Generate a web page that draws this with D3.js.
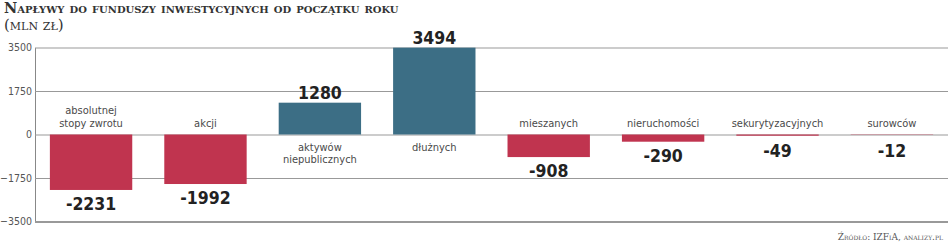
<!DOCTYPE html>
<html>
<head>
<meta charset="utf-8">
<script src="https://cdn.jsdelivr.net/npm/d3@7"></script>
<style>
  body { margin: 0; background: #fff; }
  .title { font-family: "DejaVu Serif", serif; font-weight: bold; font-variant: small-caps; fill: #333; }
  .unit { font-family: "DejaVu Serif", serif; font-variant: small-caps; fill: #333; }
  .cat { font-family: "Liberation Sans Narrow", "DejaVu Sans Condensed", sans-serif; fill: #4a4a4a; }
  .val { font-family: "Liberation Sans Narrow", "DejaVu Sans Condensed", sans-serif; font-weight: bold; fill: #222; }
  .axis text { font-family: "DejaVu Sans Condensed", "Liberation Sans Narrow", sans-serif; fill: #555; }
  .source { font-family: "DejaVu Serif", serif; font-variant: small-caps; fill: #555; }
</style>
</head>
<body>
<svg id="chart" width="948" height="245"></svg>
<script>
// categories (multi-line labels split by "|")
const categories = ['absolutnej|stopy zwrotu', 'akcji', 'aktywów|niepublicznych', 'dłużnych',
  'mieszanych', 'nieruchomości', 'sekurytyzacyjnych', 'surowców']
const values = [-2231, -1992, 1280, 3494, -908, -290, -49, -12]
const tickValues = [3500, 1750, 0, -1750, -3500]

const width = 948, height = 245
const margin = { top: 47.5, right: 0, bottom: 23.5, left: 35 }
const svg = d3.select('#chart')

const x = d3.scaleBand()
    .domain(d3.range(categories.length))
    .range([margin.left, width - margin.right])
    .paddingInner(0.28)
    .paddingOuter(0.13)

const y = d3.scaleLinear()
    .domain([-3500, 3500])
    .range([height - margin.bottom, margin.top])

// gridlines + tick labels
const yAxis = d3.axisLeft(y)
    .tickValues(tickValues)
    .tickSizeInner(-(width - margin.left - margin.right))
    .tickSizeOuter(0)
    .tickFormat(d3.format('d'))

const gAxis = svg.append('g')
    .attr('class', 'axis')
    .attr('transform', 'translate(' + margin.left + ',0)')
    .call(yAxis)
gAxis.select('.domain').attr('stroke', '#888').attr('stroke-width', 1)
gAxis.selectAll('.tick line')
    .attr('stroke', '#999')
    .attr('stroke-width', d => d === -3500 ? 2 : 1)
gAxis.selectAll('.tick text')
    .attr('x', -3)
    .style('font-size', '10.5px')

// bars
svg.append('g').selectAll('rect')
    .data(values)
    .join('rect')
    .attr('x', (d, i) => x(i))
    .attr('width', x.bandwidth())
    .attr('y', d => y(Math.max(0, d)))
    .attr('height', d => Math.abs(y(d) - y(0)))
    .attr('fill', d => d < 0 ? '#c0344f' : '#3c6e85')

// value labels
svg.append('g').selectAll('text')
    .data(values)
    .join('text')
    .attr('class', 'val')
    .attr('x', (d, i) => x(i) + x.bandwidth() / 2)
    .attr('y', d => d >= 0 ? y(d) - 4 : Math.max(y(d) + 20, y(0) + 22))
    .attr('text-anchor', 'middle')
    .style('font-size', '17.5px')
    .text(d => d)

// category labels: above zero for negative bars, below for positive
const catG = svg.append('g').selectAll('text')
    .data(categories)
    .join('text')
    .attr('class', 'cat')
    .attr('text-anchor', 'middle')
    .style('font-size', '11px')

catG.each(function (c, i) {
    const lines = c.split('|')
    const neg = values[i] < 0
    const x0 = x(i) + x.bandwidth() / 2
    const first = neg ? y(0) - 8 - (lines.length - 1) * 12.5 : y(0) + 16
    d3.select(this).selectAll('tspan')
        .data(lines)
        .join('tspan')
        .attr('x', x0)
        .attr('y', (l, k) => first + k * 12.5)
        .text(l => l)
})

// titles
svg.append('text')
    .attr('class', 'title')
    .attr('x', 4)
    .attr('y', 13)
    .style('font-size', '14.5px')
    .text('Napływy do funduszy inwestycyjnych od początku roku')

svg.append('text')
    .attr('class', 'unit')
    .attr('x', 4)
    .attr('y', 30)
    .style('font-size', '15px')
    .text('(mln zł)')

svg.append('text')
    .attr('class', 'source')
    .attr('x', 943)
    .attr('y', 240)
    .attr('text-anchor', 'end')
    .style('font-size', '9px')
    .text('Źródło: IZFiA, analizy.pl')
</script>
</body>
</html>
